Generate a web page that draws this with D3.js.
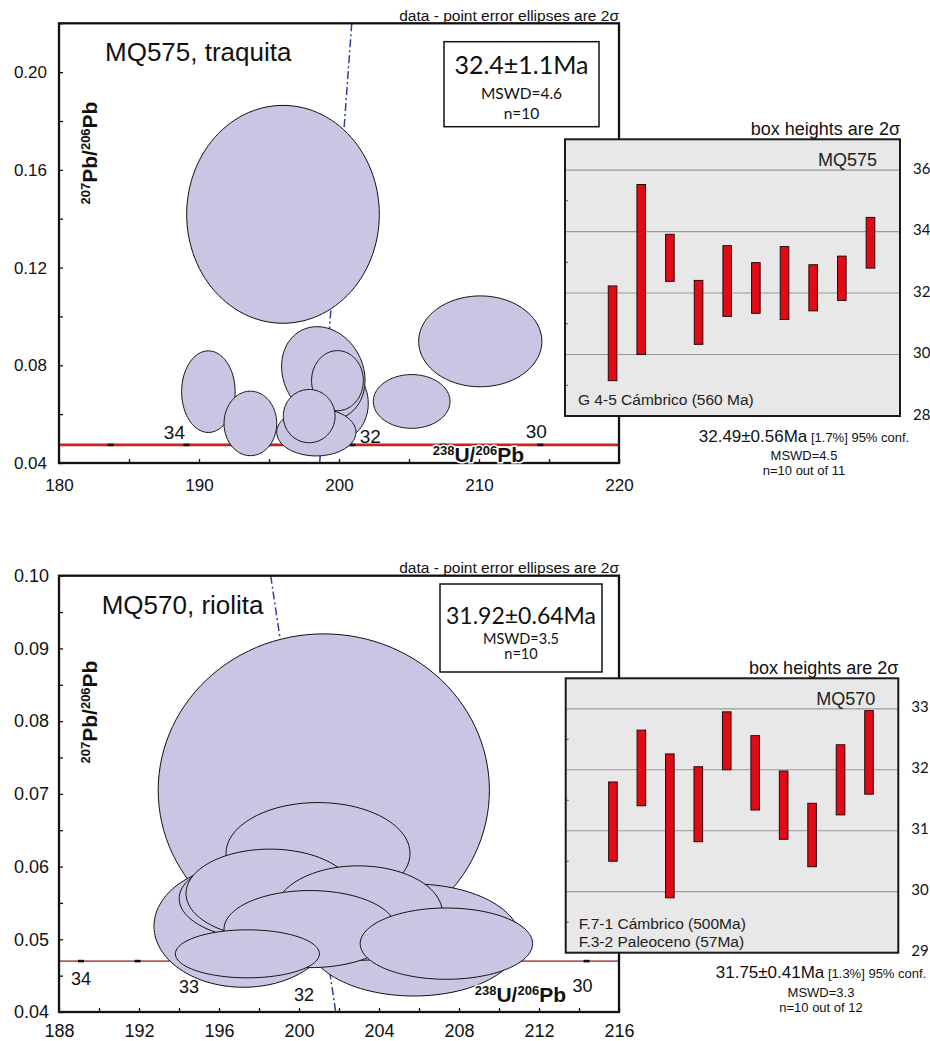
<!DOCTYPE html>
<html><head><meta charset="utf-8">
<script src="https://cdn.jsdelivr.net/npm/d3@7"></script>
<style>
html,body{margin:0;padding:0;background:#fff;}
svg{display:block;}
</style></head><body>
<svg id="fig" width="930" height="1041"></svg>
<script>
// ===== MQ575, traquita: Tera-Wasserburg spot analyses (2σ error ellipses) =====
const mq575U238Pb206 = [196.0, 210.09, 205.19, 190.67, 193.67, 199.95, 198.88, 198.38, 199.89, 197.87];
const mq575Pb207Pb206 = [0.1418, 0.0898, 0.0652, 0.0692, 0.0562, 0.0644, 0.0767, 0.0526, 0.0737, 0.0592];
const mq575ErrU = [6.88, 4.40, 2.74, 1.91, 1.88, 2.14, 2.98, 2.83, 1.85, 1.85];
const mq575ErrPb = [0.0446, 0.0186, 0.0110, 0.0167, 0.0132, 0.0150, 0.0191, 0.0097, 0.0123, 0.0109];
const mq575Rho = [0, 0, 0, 0, 0, 0, -0.15, 0, 0, 0];
const mq575RegressionU = [200.91, 198.62];
const mq575RegressionPb = [0.22, 0.04];
const mq575ConcordiaPb = 0.0474;
const mq575AgeTicks = [35, 34, 33, 32, 31, 30];
const mq575AgeLabels = [34, 32, 30];
const mq575XTicks = [180, 190, 200, 210, 220];
const mq575YTicks = [0.04, 0.08, 0.12, 0.16, 0.20];
// weighted-mean inset (Ma, 2σ)
const mq575Ages = [30.69, 32.765, 33.145, 31.37, 32.39, 32.165, 32.325, 32.17, 32.48, 33.635];
const mq575AgeErr = [1.54, 2.765, 0.765, 1.04, 1.15, 0.825, 1.185, 0.75, 0.72, 0.825];
const mq575InsetTicks = [28, 30, 32, 34, 36];

// ===== MQ570, riolita =====
const mq570U238Pb206 = [201.24, 197.22, 200.95, 198.38, 198.55, 205.74, 202.97, 200.55, 207.37, 197.42];
const mq570Pb207Pb206 = [0.0705, 0.0518, 0.0618, 0.0556, 0.0563, 0.0499, 0.0536, 0.0514, 0.0494, 0.0480];
const mq570ErrU = [8.28, 4.47, 4.60, 4.37, 4.20, 5.33, 4.20, 4.30, 4.31, 3.60];
const mq570ErrPb = [0.0215, 0.0084, 0.0070, 0.0057, 0.0061, 0.0077, 0.0065, 0.0053, 0.0049, 0.0033];
const mq570Rho = [0, 0, 0, 0, 0, 0, 0, 0, 0, 0];
const mq570RegressionU = [198.585, 201.835];
const mq570RegressionPb = [0.10, 0.04];
const mq570ConcordiaPb = 0.0470;
const mq570AgeTicks = [34, 33.5, 33, 32.5, 32, 31.5, 31, 30.5, 30];
const mq570AgeLabels = [34, 33, 32, 30];
const mq570XTicks = [188, 192, 196, 200, 204, 208, 212, 216];
const mq570YTicks = [0.04, 0.05, 0.06, 0.07, 0.08, 0.09, 0.10];
const mq570Ages = [31.15, 32.03, 31.08, 31.435, 32.475, 31.95, 31.42, 30.93, 31.835, 32.285];
const mq570AgeErr = [0.65, 0.62, 1.18, 0.615, 0.475, 0.61, 0.56, 0.52, 0.575, 0.685];
const mq570InsetTicks = [29, 30, 31, 32, 33];

const SANS = '"Liberation Sans", Arial, sans-serif';
const CAL = 'Lato, "Open Sans", sans-serif';
const ELL_FILL = "#c9c6e3";

// 238U decay constant (1/Ma); position of an age on the Tera-Wasserburg abscissa
const lambda238 = 1.55125e-4;
const u238AtAge = t => 1 / Math.expm1(lambda238 * t);

const svg = d3.select("#fig");

function ellipsePoints(cx, cy, ax, ay, rho, n = 120) {
  const s = Math.sqrt(1 - rho * rho);
  return d3.range(n).map(i => {
    const t = 2 * Math.PI * i / n;
    return [cx + ax * Math.cos(t), cy + ay * (rho * Math.cos(t) + s * Math.sin(t))];
  });
}

function near(list, v) { return list.some(t => Math.abs(t - v) < 1e-9); }

function addRatioLabel(sel, parts) {
  parts.forEach(([txt, sup]) => {
    const t = sel.append("tspan").text(txt);
    if (sup) t.attr("font-size", sup).attr("baseline-shift", "55%");
  });
}

function drawPanel(p) {
  const g = svg.append("g");
  const x = d3.scaleLinear().domain(p.xDomain).range([p.left, p.right]);
  const y = d3.scaleLinear().domain(p.yDomain).range([p.bottom, p.top]);

  svg.append("clipPath").attr("id", p.id + "-clip").append("rect")
    .attr("x", p.left).attr("y", p.top).attr("width", p.right - p.left).attr("height", p.bottom - p.top);
  const plot = g.append("g").attr("clip-path", `url(#${p.id}-clip)`);

  // concordia (nearly flat at this age range)
  plot.append("line")
    .attr("x1", x(p.xDomain[0])).attr("x2", x(p.xDomain[1]))
    .attr("y1", y(p.concordia)).attr("y2", y(p.concordia))
    .attr("stroke", p.concordiaColor).attr("stroke-width", p.concordiaWidth);
  plot.selectAll("rect.ageTick").data(p.ageTicks).join("rect")
    .attr("x", d => x(u238AtAge(d)) - 3).attr("y", y(p.concordia) - 1.3)
    .attr("width", 6).attr("height", 2.6).attr("fill", "#111");

  // regression line
  const lineGen = d3.line().x(d => x(d[0])).y(d => y(d[1]));
  plot.append("path").datum(d3.zip(p.regU, p.regPb)).attr("d", lineGen)
    .attr("fill", "none").attr("stroke", "#2c3f9e").attr("stroke-width", 1.5)
    .attr("stroke-dasharray", "8,3,2,3");

  // error ellipses
  const closed = d3.line().x(d => x(d[0])).y(d => y(d[1])).curve(d3.curveLinearClosed);
  plot.selectAll("path.ell").data(d3.range(p.u.length)).join("path")
    .attr("class", "ell")
    .attr("d", i => closed(ellipsePoints(p.u[i], p.pb[i], p.eu[i], p.epb[i], p.rho[i])))
    .attr("fill", ELL_FILL).attr("stroke", "#111").attr("stroke-width", 1);

  // age labels along concordia
  g.selectAll("text.age").data(p.ageLabels).join("text")
    .attr("x", d => x(u238AtAge(d)) + p.ageLabelOffset[d][0])
    .attr("y", d => y(p.concordia) + p.ageLabelOffset[d][1])
    .attr("text-anchor", "middle").attr("font-family", SANS).attr("font-size", p.ageFont)
    .attr("fill", "#111").text(d => d);

  // axes
  const xAx = d3.axisBottom(x).tickValues(p.xMinor).tickSizeInner(-4).tickSizeOuter(0)
    .tickFormat(v => near(p.xTicks, v) ? d3.format("d")(v) : "");
  g.append("g").attr("transform", `translate(0,${p.bottom})`).call(xAx)
    .call(a => a.select(".domain").remove())
    .call(a => a.selectAll("line").attr("stroke", "#111").attr("stroke-width", 1.3))
    .call(a => a.selectAll("text").attr("y", p.xLabelDy).attr("dy", null)
      .attr("font-family", SANS).attr("font-size", p.tickFont).attr("fill", "#111"));
  const yAx = d3.axisLeft(y).tickValues(p.yMinor).tickSizeInner(-4).tickSizeOuter(0)
    .tickPadding(p.yPad).tickFormat(v => near(p.yTicks, v) ? d3.format(".2f")(v) : "");
  g.append("g").attr("transform", `translate(${p.left},0)`).call(yAx)
    .call(a => a.select(".domain").remove())
    .call(a => a.selectAll("line").attr("stroke", "#111").attr("stroke-width", 1.3))
    .call(a => a.selectAll("text").attr("font-family", SANS).attr("font-size", p.tickFont).attr("fill", "#111"));

  // frame
  g.append("rect").attr("x", p.left).attr("y", p.top)
    .attr("width", p.right - p.left).attr("height", p.bottom - p.top)
    .attr("fill", "none").attr("stroke", "#111").attr("stroke-width", 2.3);

  // axis titles
  const xt = g.append("text").attr("x", p.xTitle[0]).attr("y", p.xTitle[1]).attr("text-anchor", "end")
    .attr("font-family", SANS).attr("font-weight", "bold").attr("font-size", 21).attr("fill", "#111")
    .attr("stroke", "#fff").attr("stroke-width", 3).attr("paint-order", "stroke");
  addRatioLabel(xt, [["238", 13], ["U/", 0], ["206", 13], ["Pb", 0]]);
  const yt = g.append("text").attr("transform", `translate(${p.yTitle[0]},${p.yTitle[1]}) rotate(-90)`)
    .attr("text-anchor", "middle").attr("font-family", SANS).attr("font-weight", "bold")
    .attr("font-size", 21).attr("fill", "#111");
  addRatioLabel(yt, [["207", 13], ["Pb/", 0], ["206", 13], ["Pb", 0]]);

  // sample name and header
  g.append("text").attr("x", p.left + p.nameDx).attr("y", p.nameY).attr("font-family", SANS)
    .attr("font-size", 26).attr("fill", "#111").text(p.name);
  g.append("text").attr("x", p.right).attr("y", p.headerY).attr("text-anchor", "end")
    .attr("font-family", SANS).attr("font-size", 15.5).attr("fill", "#111")
    .text("data - point error ellipses are 2σ");

  // intercept age box
  const b = p.statBox;
  g.append("rect").attr("x", b.x).attr("y", b.y).attr("width", b.w).attr("height", b.h)
    .attr("fill", "#fff").attr("stroke", "#111").attr("stroke-width", 1.5);
  const cx = b.x + b.w / 2;
  b.lines.forEach(([txt, size, base]) => {
    g.append("text").attr("x", cx).attr("y", b.y + base).attr("text-anchor", "middle")
      .attr("font-family", CAL).attr("font-size", size).attr("fill", "#111").text(txt);
  });
}

function drawInset(s) {
  const g = svg.append("g");
  const x = d3.scaleLinear().domain([-1.66, 10.03]).range([s.left, s.right]);
  const y = d3.scaleLinear().domain(s.yDomain).range([s.bottom, s.top]);
  g.append("rect").attr("x", s.left).attr("y", s.top).attr("width", s.right - s.left)
    .attr("height", s.bottom - s.top).attr("fill", "#e8e8e8");
  g.selectAll("line.grid").data(s.grid).join("line")
    .attr("x1", s.left).attr("x2", s.right).attr("y1", d => y(d)).attr("y2", d => y(d))
    .attr("stroke", "#9a9a9a").attr("stroke-width", 1.2);
  g.selectAll("line.minor").data(s.minor).join("line")
    .attr("x1", s.left).attr("x2", s.left + 3).attr("y1", d => y(d)).attr("y2", d => y(d))
    .attr("stroke", "#555").attr("stroke-width", 1);
  g.selectAll("rect.bar").data(d3.range(s.ages.length)).join("rect")
    .attr("x", i => x(i) - 4.3).attr("width", 8.6)
    .attr("y", i => y(s.ages[i] + s.err[i]))
    .attr("height", i => y(s.ages[i] - s.err[i]) - y(s.ages[i] + s.err[i]))
    .attr("fill", "#e20a16").attr("stroke", "#2a0a0a").attr("stroke-width", 1);
  g.append("rect").attr("x", s.left).attr("y", s.top).attr("width", s.right - s.left)
    .attr("height", s.bottom - s.top).attr("fill", "none").attr("stroke", "#1a1a1a").attr("stroke-width", 2);
  g.selectAll("text.tick").data(s.ticks).join("text")
    .attr("x", s.right + 13).attr("y", d => y(d) + 3.5)
    .attr("font-family", CAL).attr("font-size", 15).attr("fill", "#111").text(d => d);
  g.append("text").attr("x", s.right).attr("y", s.top - 4.5).attr("text-anchor", "end")
    .attr("font-family", SANS).attr("font-size", 18).attr("fill", "#111").text("box heights are 2σ");
  g.append("text").attr("x", s.right - 23).attr("y", y(s.grid[s.grid.length - 1]) - 4)
    .attr("text-anchor", "end").attr("font-family", SANS).attr("font-size", 18)
    .attr("fill", "#222").text(s.name);
  s.notes.forEach((t, k) => {
    g.append("text").attr("x", s.left + 13).attr("y", s.bottom - s.notesBottom + k * 17.4)
      .attr("font-family", SANS).attr("font-size", 15.5).attr("fill", "#222").text(t);
  });
  const c = s.statsX;
  const t1 = g.append("text").attr("x", c).attr("y", s.bottom + 25.7).attr("text-anchor", "middle")
    .attr("font-family", SANS).attr("fill", "#111");
  t1.append("tspan").attr("font-size", 17).text(s.mean);
  t1.append("tspan").attr("font-size", 13).text(" " + s.conf);
  g.append("text").attr("x", c).attr("y", s.bottom + 44).attr("text-anchor", "middle")
    .attr("font-family", SANS).attr("font-size", 13).attr("fill", "#111").text(s.mswd);
  g.append("text").attr("x", c).attr("y", s.bottom + 59).attr("text-anchor", "middle")
    .attr("font-family", SANS).attr("font-size", 13).attr("fill", "#111").text(s.count);
}

drawPanel({
  id: "mq575", name: "MQ575, traquita",
  left: 59, right: 619, top: 23.3, bottom: 463,
  xDomain: [180, 220], yDomain: [0.04, 0.22],
  xTicks: mq575XTicks, xMinor: d3.range(180, 220.1, 5),
  yTicks: mq575YTicks, yMinor: d3.range(0, 10).map(k => 0.04 + 0.02 * k),
  u: mq575U238Pb206, pb: mq575Pb207Pb206, eu: mq575ErrU, epb: mq575ErrPb, rho: mq575Rho,
  regU: mq575RegressionU, regPb: mq575RegressionPb,
  concordia: mq575ConcordiaPb, concordiaColor: "#cc1f1f", concordiaWidth: 2.6,
  ageTicks: mq575AgeTicks, ageLabels: mq575AgeLabels, ageFont: 19,
  ageLabelOffset: {34: [-12, -6], 32: [18, -2], 30: [-4, -7]},
  tickFont: 17, xLabelDy: 27.5, yPad: 12,
  xTitle: [524, 461.5], yTitle: [96.5, 153],
  nameDx: 46, nameY: 60.7, headerY: 20.7,
  statBox: {x: 444, y: 41.7, w: 155, h: 85,
    lines: [["32.4±1.1Ma", 25, 32.3], ["MSWD=4.6", 15.5, 57], ["n=10", 15.5, 77.6]]}
});

drawPanel({
  id: "mq570", name: "MQ570, riolita",
  left: 59, right: 619, top: 575.7, bottom: 1012,
  xDomain: [188, 216], yDomain: [0.04, 0.10],
  xTicks: mq570XTicks, xMinor: d3.range(188, 216.1, 2),
  yTicks: mq570YTicks, yMinor: d3.range(0, 13).map(k => 0.04 + 0.005 * k),
  u: mq570U238Pb206, pb: mq570Pb207Pb206, eu: mq570ErrU, epb: mq570ErrPb, rho: mq570Rho,
  regU: mq570RegressionU, regPb: mq570RegressionPb,
  concordia: mq570ConcordiaPb, concordiaColor: "#b35a5a", concordiaWidth: 1.6,
  ageTicks: mq570AgeTicks, ageLabels: mq570AgeLabels, ageFont: 18,
  ageLabelOffset: {34: [0, 24], 33: [-7, 32], 32: [-14, 40], 30: [-4, 31]},
  tickFont: 18, xLabelDy: 25, yPad: 10,
  xTitle: [566, 1001.7], yTitle: [96.5, 712],
  nameDx: 42.7, nameY: 614, headerY: 572.5,
  statBox: {x: 440, y: 584, w: 162, h: 88,
    lines: [["31.92±0.64Ma", 23, 40], ["MSWD=3.5", 14.5, 59.5], ["n=10", 14.5, 74.5]]}
});

drawInset({
  name: "MQ575", left: 565, right: 900, top: 139.3, bottom: 416,
  yDomain: [28, 37], grid: [30, 32, 34, 36], minor: [29, 31, 33, 35],
  ticks: mq575InsetTicks, ages: mq575Ages, err: mq575AgeErr,
  notes: ["G 4-5 Cámbrico (560 Ma)"], notesBottom: 11,
  statsX: 804, mean: "32.49±0.56Ma", conf: "[1.7%] 95% conf.",
  mswd: "MSWD=4.5", count: "n=10 out of 11"
});

drawInset({
  name: "MQ570", left: 565.7, right: 898.3, top: 678.3, bottom: 952.7,
  yDomain: [29, 33.5], grid: [30, 31, 32, 33], minor: [29.5, 30.5, 31.5, 32.5],
  ticks: mq570InsetTicks, ages: mq570Ages, err: mq570AgeErr,
  notes: ["F.7-1 Cámbrico (500Ma)", "F.3-2 Paleoceno (57Ma)"], notesBottom: 23.4,
  statsX: 821, mean: "31.75±0.41Ma", conf: "[1.3%] 95% conf.",
  mswd: "MSWD=3.3", count: "n=10 out of 12"
});
</script>
</body></html>
